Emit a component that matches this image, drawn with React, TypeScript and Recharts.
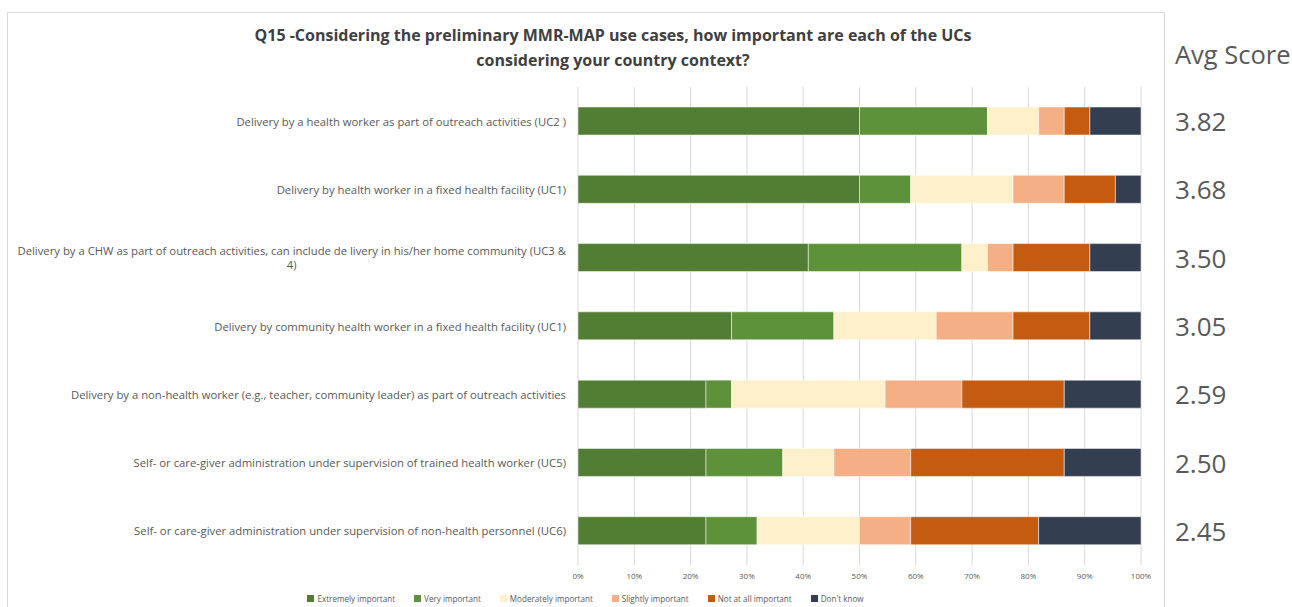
import React from 'react';
import { BarChart, Bar, XAxis, YAxis, CartesianGrid, Legend } from 'recharts';

const categories = [
  'Delivery by a health worker as part of outreach activities (UC2 )',
  'Delivery by health worker in a fixed health facility (UC1)',
  'Delivery by a CHW as part of outreach activities, can include de livery in his/her home community (UC3 &\n4)',
  'Delivery by community health worker in a fixed health facility  (UC1)',
  'Delivery by a non-health worker (e.g., teacher, community leader) as part of outreach activities',
  'Self- or care-giver administration under supervision of trained  health worker (UC5)',
  'Self- or care-giver administration under supervision of non-health personnel (UC6)',
];
const avgScores = ['3.82', '3.68', '3.50', '3.05', '2.59', '2.50', '2.45'];
const extremely = [50.0, 50.0, 40.91, 27.27, 22.73, 22.73, 22.73];
const very = [22.73, 9.09, 27.27, 18.18, 4.55, 13.64, 9.09];
const moderately = [9.09, 18.18, 4.55, 18.18, 27.27, 9.09, 18.18];
const slightly = [4.55, 9.09, 4.55, 13.64, 13.64, 13.64, 9.09];
const notAtAll = [4.55, 9.09, 13.64, 13.64, 18.18, 27.27, 22.73];
const dontKnow = [9.09, 4.55, 9.09, 9.09, 13.64, 13.64, 18.18];
const xTicks = [0, 10, 20, 30, 40, 50, 60, 70, 80, 90, 100];

const series = [
  { key: 'extremely', name: 'Extremely important', color: '#517E32', values: extremely },
  { key: 'very', name: 'Very important', color: '#5E923A', values: very },
  { key: 'moderately', name: 'Moderately important', color: '#FFF0CC', values: moderately },
  { key: 'slightly', name: 'Slightly important', color: '#F4B084', values: slightly },
  { key: 'notAtAll', name: 'Not at all important', color: '#C55A11', values: notAtAll },
  { key: 'dontKnow', name: "Don't know", color: '#333F50', values: dontKnow },
];

const data = categories.map((c, i) => {
  const row: any = { category: c, avg: avgScores[i] };
  series.forEach((s) => {
    row[s.key] = s.values[i];
  });
  return row;
});

const FONT = '"Open Sans", "Noto Sans", sans-serif';
const LABEL_SIZE = 11.3;

let ctx: CanvasRenderingContext2D | null = null;
const measure = (text: string, font: string) => {
  if (!ctx) ctx = document.createElement('canvas').getContext('2d');
  if (!ctx) return text.length * 5;
  ctx.font = font;
  return ctx.measureText(text).width;
};

const LeftTick = (props: any) => {
  const { x, y, payload } = props;
  const lines = String(payload.value).split('\n');
  if (lines.length === 1) {
    return (
      <text x={x} y={y} textAnchor="end" dominantBaseline="central" fontSize={LABEL_SIZE} fill="#595959" fontFamily={FONT}>
        {lines[0]}
      </text>
    );
  }
  const w = measure(lines[0], `${LABEL_SIZE}px "Open Sans"`);
  const cx = x - w / 2;
  const lh = 14;
  const start = y - ((lines.length - 1) * lh) / 2;
  return (
    <g>
      {lines.map((l, i) => (
        <text key={i} x={cx} y={start + i * lh} textAnchor="middle" dominantBaseline="central" fontSize={LABEL_SIZE} fill="#595959" fontFamily={FONT}>
          {l}
        </text>
      ))}
    </g>
  );
};

const RightTick = (props: any) => {
  const { x, y, payload } = props;
  return (
    <text x={x} y={y} textAnchor="start" dominantBaseline="central" fontSize={26} fill="#595959" fontFamily={FONT}>
      {payload.value}
    </text>
  );
};

const LegendContent = () => (
  <div style={{ display: 'flex', justifyContent: 'center', alignItems: 'center', height: 18, fontFamily: FONT, fontSize: 8.1, color: '#595959' }}>
    {series.map((s) => (
      <div key={s.key} style={{ display: 'flex', alignItems: 'center', margin: '0 9.5px' }}>
        <span style={{ display: 'inline-block', width: 7, height: 7, background: s.color, marginRight: 3 }} />
        <span>{s.name}</span>
      </div>
    ))}
  </div>
);

export default function App() {
  return (
    <div style={{ position: 'absolute', left: 0, top: 0, width: 1292, height: 607, overflow: 'hidden', background: '#fff', fontFamily: FONT }}>
      <div style={{ position: 'absolute', left: 7, top: 12, width: 1156, height: 620, border: '1px solid #d9d9d9' }} />
      <div style={{ position: 'absolute', left: 163, width: 900, top: 23, textAlign: 'center', fontWeight: 700, fontSize: 16, lineHeight: '25px', color: '#404040' }}>
        Q15 -Considering the preliminary MMR-MAP use cases, how important are each of the UCs
        <br />
        considering your country context?
      </div>
      <div style={{ position: 'absolute', left: 1175, top: 36, fontSize: 25.5, lineHeight: '36px', color: '#595959', whiteSpace: 'nowrap' }}>
        Avg Score
      </div>
      <div style={{ position: 'absolute', left: 0, top: 0 }}>
        <BarChart width={1292} height={607} data={data} layout="vertical" margin={{ top: 87, right: 0, bottom: 0, left: 0 }} barSize={28}>
          <CartesianGrid horizontal={false} stroke="#d9d9d9" />
          <XAxis
            type="number"
            domain={[0, 100]}
            ticks={xTicks}
            allowDataOverflow
            tickFormatter={(v: number) => `${v}%`}
            axisLine={false}
            tickLine={false}
            tickSize={0}
            tickMargin={8}
            height={24}
            tick={{ fontSize: 8, fill: '#595959', fontFamily: FONT }}
          />
          <YAxis
            type="category"
            dataKey="category"
            width={578}
            axisLine={false}
            tickLine={false}
            tickSize={0}
            tickMargin={12}
            tick={<LeftTick />}
            interval={0}
          />
          <YAxis
            yAxisId="right"
            orientation="right"
            type="category"
            dataKey="avg"
            width={151}
            axisLine={false}
            tickLine={false}
            tickSize={0}
            tickMargin={34}
            tick={<RightTick />}
            interval={0}
          />
          <Legend verticalAlign="bottom" content={<LegendContent />} wrapperStyle={{ left: 0, width: 1171, bottom: 0 }} />
          {series.map((s) => (
            <Bar key={s.key} dataKey={s.key} name={s.name} stackId="a" fill={s.color} stroke="#ffffff" strokeWidth={0.5} isAnimationActive={false} />
          ))}
        </BarChart>
      </div>
    </div>
  );
}
